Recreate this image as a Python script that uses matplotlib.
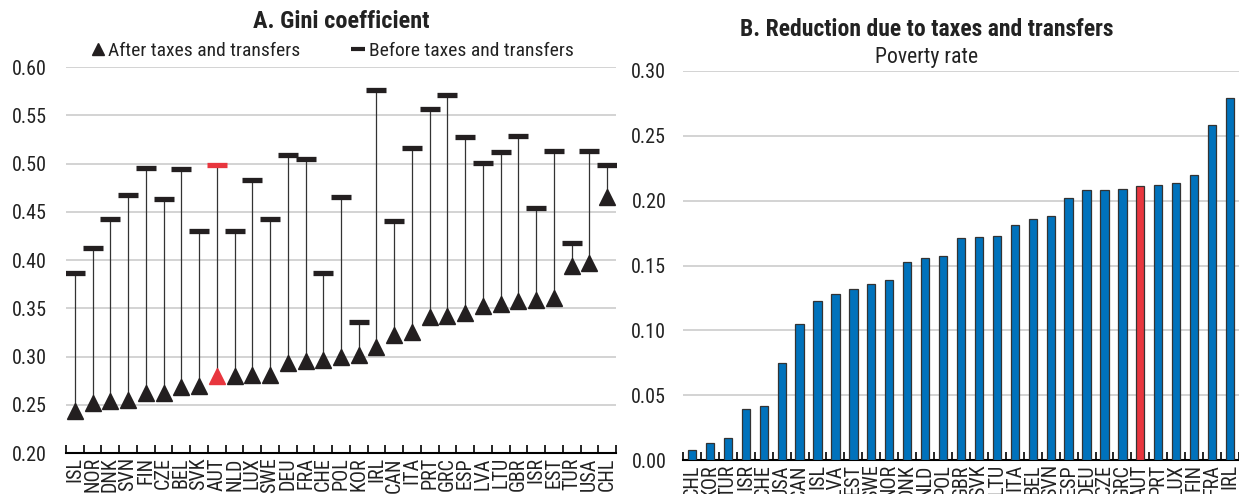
import matplotlib
matplotlib.use("Agg")
import matplotlib.pyplot as plt
from matplotlib.lines import Line2D
import numpy as np
import logging
logging.getLogger('matplotlib.font_manager').setLevel(logging.ERROR)

plt.rcParams['font.family'] = ['Liberation Sans Narrow', 'Roboto Condensed', 'Open Sans Condensed',
                               'Liberation Sans', 'DejaVu Sans']

# Panel A data
countries_a = ["ISL", "NOR", "DNK", "SVN", "FIN", "CZE", "BEL", "SVK", "AUT", "NLD",
               "LUX", "SWE", "DEU", "FRA", "CHE", "POL", "KOR", "IRL", "CAN", "ITA",
               "PRT", "GRC", "ESP", "LVA", "LTU", "GBR", "ISR", "EST", "TUR", "USA", "CHL"]
gini_after = [0.244, 0.252, 0.254, 0.255, 0.262, 0.262, 0.268, 0.269, 0.280, 0.280,
              0.281, 0.281, 0.293, 0.295, 0.296, 0.300, 0.302, 0.310, 0.322, 0.325,
              0.341, 0.342, 0.345, 0.352, 0.354, 0.358, 0.359, 0.361, 0.394, 0.397, 0.465]
gini_before = [0.387, 0.412, 0.442, 0.467, 0.495, 0.463, 0.494, 0.430, 0.498, 0.430,
               0.483, 0.443, 0.509, 0.505, 0.387, 0.465, 0.336, 0.576, 0.440, 0.516,
               0.556, 0.571, 0.527, 0.501, 0.512, 0.528, 0.454, 0.513, 0.418, 0.513, 0.498]

# Panel B data
countries_b = ["CHL", "KOR", "TUR", "ISR", "CHE", "USA", "CAN", "ISL", "LVA", "EST",
               "SWE", "NOR", "DNK", "NLD", "POL", "GBR", "SVK", "LTU", "ITA", "BEL",
               "SVN", "ESP", "DEU", "CZE", "GRC", "AUT", "PRT", "LUX", "FIN", "FRA", "IRL"]
poverty_red = [0.008, 0.013, 0.017, 0.039, 0.042, 0.075, 0.105, 0.123, 0.128, 0.132,
               0.136, 0.139, 0.153, 0.156, 0.157, 0.171, 0.172, 0.173, 0.181, 0.186,
               0.188, 0.202, 0.208, 0.208, 0.209, 0.211, 0.212, 0.214, 0.220, 0.258, 0.279]

highlight = "AUT"
DARK = "#231f20"
RED = "#e8363e"
BLUE = "#0072bc"
GRID = "#d0d0d0"
TXT = "#222222"

W, H = 1239, 494
fig = plt.figure(figsize=(W / 100, H / 100), dpi=100)

def frac(x0, y_top, x1, y_bot):
    return [x0 / W, 1 - y_bot / H, (x1 - x0) / W, (y_bot - y_top) / H]

# ---------- Panel A ----------
axA = fig.add_axes(frac(66, 67, 616, 453))
xa = np.arange(len(countries_a))
cols_a = [RED if c == highlight else DARK for c in countries_a]
axA.vlines(xa, gini_after, gini_before, colors="#333333", lw=0.9, zorder=2)
for x, a, b, c in zip(xa, gini_after, gini_before, cols_a):
    axA.plot([x], [a], marker="^", ms=12, color=c, mec=c, ls="none", zorder=3)
    axA.plot([x], [b], marker="_", ms=14.5, mew=3.8, color=c, ls="none", zorder=3)
axA.set_xlim(-0.5, len(countries_a) - 0.5)
axA.set_ylim(0.20, 0.60)
axA.set_yticks(np.arange(0.20, 0.601, 0.05))
axA.set_yticklabels([f"{v:.2f}" for v in np.arange(0.20, 0.601, 0.05)])
axA.set_xticks(xa)
axA.set_xticklabels(countries_a, rotation=90)
axA.set_xticks(np.arange(-0.5, len(countries_a)), minor=True)

# ---------- Panel B ----------
axB = fig.add_axes(frac(683, 71, 1239, 460))
xb = np.arange(len(countries_b))
cols_b = [RED if c == highlight else BLUE for c in countries_b]
axB.bar(xb, poverty_red, width=0.46, color=cols_b, edgecolor="#333333", lw=0.9, zorder=3)
axB.set_xlim(-0.5, 30.1)
axB.set_ylim(0.0, 0.30)
axB.set_yticks(np.arange(0.0, 0.301, 0.05))
axB.set_yticklabels([f"{v:.2f}" for v in np.arange(0.0, 0.301, 0.05)])
axB.set_xticks(xb)
axB.set_xticklabels(countries_b, rotation=90)
axB.set_xticks(np.arange(-0.5, len(countries_b)), minor=True)

for ax, ypad in ((axA, 14), (axB, 12)):
    for s in ("top", "right", "left"):
        ax.spines[s].set_visible(False)
    ax.spines["bottom"].set_color("black")
    ax.spines["bottom"].set_linewidth(1.5)
    ax.yaxis.grid(True, color=GRID, lw=1.3)
    ax.set_axisbelow(True)
    ax.tick_params(axis="y", length=0, labelsize=14.5, pad=ypad, labelcolor=TXT)
    ax.tick_params(axis="x", which="major", length=0, labelsize=14.5, pad=3, labelcolor=TXT)
    ax.tick_params(axis="x", which="minor", direction="in", length=6, width=1.2, color="black")

# Titles
fig.text(341 / W, 1 - 22 / H, "A. Gini coefficient", ha="center", va="center",
         fontsize=17.5, fontweight="bold", color=TXT)
fig.text(927 / W, 1 - 30 / H, "B. Reduction due to taxes and transfers", ha="center", va="center",
         fontsize=17, fontweight="bold", color=TXT)
fig.text(927 / W, 1 - 57 / H, "Poverty rate", ha="center", va="center",
         fontsize=15.7, color=TXT)

# Legend for panel A
handles = [Line2D([], [], marker="^", ls="none", color=DARK, ms=9),
           Line2D([], [], marker="_", ls="none", color=DARK, ms=10, mew=3)]
leg = axA.legend(handles, ["After taxes and transfers", "Before taxes and transfers"],
                 ncol=2, loc="center", bbox_to_anchor=(0.484, 1.042), frameon=False,
                 fontsize=14, handlelength=0.7, handletextpad=0.2, columnspacing=2.6,
                 borderpad=0, borderaxespad=0)
for t in leg.get_texts():
    t.set_color(TXT)

fig.savefig("out.png", dpi=100)
